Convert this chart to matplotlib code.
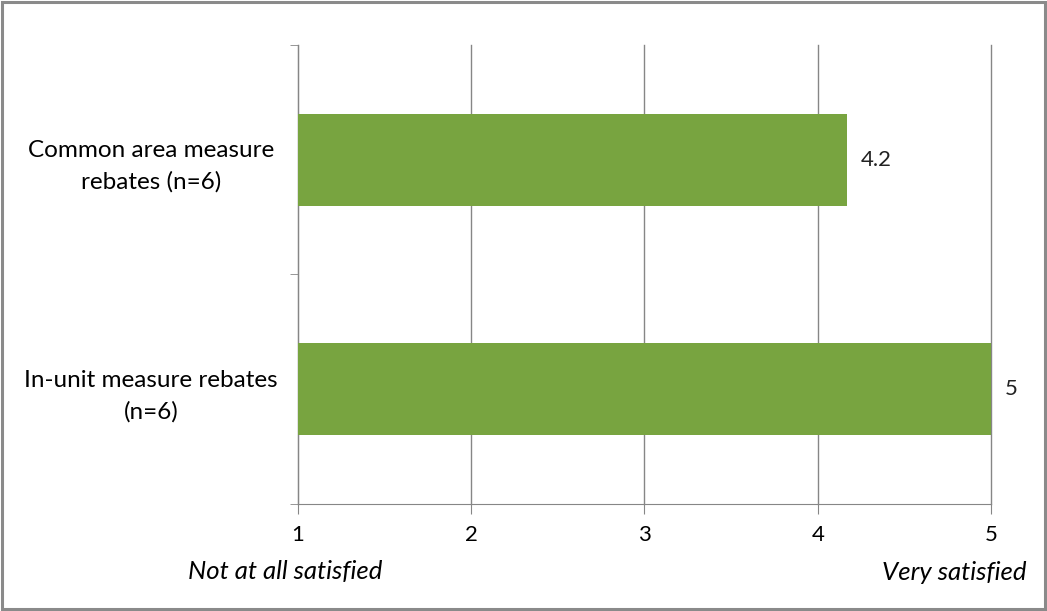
import matplotlib.pyplot as plt
from matplotlib.patches import Rectangle

# satisfaction ratings (1 = not at all satisfied, 5 = very satisfied)
categories = ['Common area measure\nrebates (n=6)', 'In-unit measure rebates\n(n=6)']
values = [4.17, 5.0]
labels = ['4.2', '5']
x_ticks = [1, 2, 3, 4, 5]

plt.rcParams['font.family'] = ['Lato', 'DejaVu Sans']

fig = plt.figure(figsize=(10.47, 6.11), dpi=100)
ax = fig.add_axes([0.2846, 0.1751, 0.9465 - 0.2846, 0.9264 - 0.1751])

ypos = list(range(len(categories)))
ax.barh(ypos, [v - 1 for v in values], left=1, height=0.4, color='#78A440', zorder=3)

for y, v, lab in zip(ypos, values, labels):
    ax.text(v + 0.08, y, lab, va='center', ha='left', fontsize=16, color='#222222')

ax.set_xlim(1, 5)
ax.set_ylim(1.5, -0.5)
ax.set_xticks(x_ticks)
ax.set_xticklabels([str(t) for t in x_ticks], fontsize=16)
ax.set_yticks(ypos)
ax.set_yticklabels(categories, fontsize=17.5, ha='center', linespacing=1.55)
ax.tick_params(axis='y', length=0, pad=106)
ax.set_yticks([-0.5, 0.5, 1.5], minor=True)
ax.tick_params(axis='y', which='minor', length=6, color='#868686', direction='out')
ax.tick_params(axis='x', length=7, color='#868686', pad=8)
ax.grid(axis='x', color='#868686', linewidth=1, zorder=0)
for gl in ax.get_xgridlines():
    gl.set_clip_on(False)

for s in ['top', 'right']:
    ax.spines[s].set_visible(False)
for s in ['left', 'bottom']:
    ax.spines[s].set_color('#868686')

fig.text(285 / 1047, 1 - 572 / 611, 'Not at all satisfied', ha='center', va='center',
         fontsize=18.5, style='italic')
fig.text(1027 / 1047, 1 - 572 / 611, 'Very satisfied', ha='right', va='center',
         fontsize=18.5, style='italic')

fig.patches.append(Rectangle((0.002, 0.003), 0.996, 0.994, transform=fig.transFigure,
                             fill=False, edgecolor='#8a8a8a', linewidth=2.2))

fig.savefig('out.png', dpi=100)
